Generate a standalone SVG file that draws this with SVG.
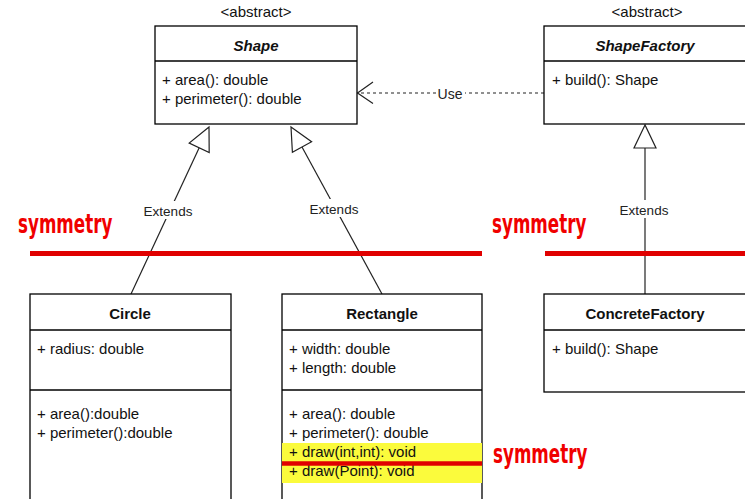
<svg xmlns="http://www.w3.org/2000/svg" width="745" height="499" viewBox="0 0 745 499">
  <defs>
    <style>
      .box { fill: #ffffff; stroke: #000000; stroke-width: 1.3; }
      .sep { stroke: #000000; stroke-width: 1.3; }
      .txt { font-family: "Liberation Sans", Arial, Helvetica, sans-serif; font-size: 15px; fill: #111111; }
      .title { font-weight: bold; text-anchor: middle; }
      .stereo { text-anchor: middle; }
      .lbl { font-family: "Liberation Sans", Arial, Helvetica, sans-serif; font-size: 13.5px; fill: #222222; text-anchor: middle; }
      .edge { stroke: #222222; stroke-width: 1.2; fill: none; }
      .tri { fill: #ffffff; stroke: #222222; stroke-width: 1.2; }
      .sym { font-family: "DejaVu Sans Condensed", "DejaVu Sans", sans-serif; font-stretch: condensed; font-weight: bold; font-size: 27px; fill: #f00000; }
      .redline { stroke: #e00000; stroke-width: 5; }
    </style>
  </defs>

  <rect width="745" height="499" fill="#ffffff"/>

  <!-- connectors -->
  <g id="connectors">
    <!-- Circle extends Shape -->
    <line class="edge" x1="131" y1="294" x2="199.2" y2="147.8"/>
    <polygon class="tri" points="209,127 189.2,143.1 209.2,152.5"/>
    <rect x="142" y="201" width="52" height="18" fill="#ffffff"/>
    <text class="lbl" x="168" y="216">Extends</text>

    <!-- Rectangle extends Shape -->
    <line class="edge" x1="382" y1="294" x2="302" y2="147"/>
    <polygon class="tri" points="291,127 311.6,141.7 292.4,152.3"/>
    <rect x="308" y="199" width="52" height="18" fill="#ffffff"/>
    <text class="lbl" x="334" y="214">Extends</text>

    <!-- ConcreteFactory extends ShapeFactory -->
    <line class="edge" x1="645" y1="294" x2="645" y2="148"/>
    <polygon class="tri" points="645,125 634,148 656,148"/>
    <rect x="618" y="200" width="52" height="18" fill="#ffffff"/>
    <text class="lbl" x="644" y="215">Extends</text>

    <!-- ShapeFactory uses Shape -->
    <line class="edge" x1="544" y1="93" x2="358" y2="93" stroke-dasharray="3,3"/>
    <polyline class="edge" points="373,82 357.5,93 373,103.5"/>
    <rect x="436" y="85" width="29" height="17" fill="#ffffff"/>
    <text class="lbl" x="450" y="98.5" style="font-size:14px">Use</text>
  </g>

  <!-- abstract Shape -->
  <g id="shape">
    <text class="txt stereo" x="256" y="16.5">&lt;abstract&gt;</text>
    <rect class="box" x="155" y="26" width="202" height="98"/>
    <line class="sep" x1="155" y1="61" x2="357" y2="61"/>
    <text class="txt title" x="256" y="51" font-style="italic">Shape</text>
    <text class="txt" x="162" y="85">+ area(): double</text>
    <text class="txt" x="162" y="104">+ perimeter(): double</text>
  </g>

  <!-- abstract ShapeFactory -->
  <g id="shapefactory">
    <text class="txt stereo" x="647" y="16.5">&lt;abstract&gt;</text>
    <rect class="box" x="544" y="26" width="204" height="98"/>
    <line class="sep" x1="544" y1="61" x2="748" y2="61"/>
    <text class="txt title" x="645" y="51" font-style="italic">ShapeFactory</text>
    <text class="txt" x="552" y="85">+ build(): Shape</text>
  </g>

  <!-- Circle -->
  <g id="circle">
    <rect class="box" x="30" y="294" width="201" height="220"/>
    <line class="sep" x1="30" y1="330" x2="231" y2="330"/>
    <line class="sep" x1="30" y1="390" x2="231" y2="390"/>
    <text class="txt title" x="130" y="319">Circle</text>
    <text class="txt" x="37" y="354">+ radius: double</text>
    <text class="txt" x="37" y="419">+ area():double</text>
    <text class="txt" x="37" y="438">+ perimeter():double</text>
  </g>

  <!-- Rectangle -->
  <g id="rectangle">
    <rect class="box" x="282" y="294" width="200" height="220"/>
    <line class="sep" x1="282" y1="330" x2="482" y2="330"/>
    <line class="sep" x1="282" y1="390" x2="482" y2="390"/>
    <rect x="282" y="443" width="200" height="40" fill="#fbfb3c"/>
    <text class="txt title" x="382" y="319">Rectangle</text>
    <text class="txt" x="289" y="354">+ width: double</text>
    <text class="txt" x="289" y="373">+ length: double</text>
    <text class="txt" x="289" y="419">+ area(): double</text>
    <text class="txt" x="289" y="438">+ perimeter(): double</text>
    <text class="txt" x="289" y="457">+ draw(int,int): void</text>
    <text class="txt" x="289" y="476">+ draw(Point): void</text>
  </g>

  <!-- ConcreteFactory -->
  <g id="concretefactory">
    <rect class="box" x="544" y="294" width="204" height="98"/>
    <line class="sep" x1="544" y1="330" x2="748" y2="330"/>
    <text class="txt title" x="645" y="319">ConcreteFactory</text>
    <text class="txt" x="552" y="354">+ build(): Shape</text>
  </g>

  <!-- symmetry annotations: red rules plus condensed red captions -->
  <g id="symmetry">
    <line class="redline" x1="30" y1="253.5" x2="482" y2="253.5"/>
    <line class="redline" x1="545" y1="253.5" x2="750" y2="253.5"/>
    <line class="redline" x1="282" y1="463.5" x2="482" y2="463.5" style="stroke-width:4.5"/>
    <text class="sym" transform="translate(18,233) scale(0.69,1)">symmetry</text>
    <text class="sym" transform="translate(492,233) scale(0.69,1)">symmetry</text>
    <text class="sym" transform="translate(493,463) scale(0.69,1)">symmetry</text>
  </g>
</svg>
